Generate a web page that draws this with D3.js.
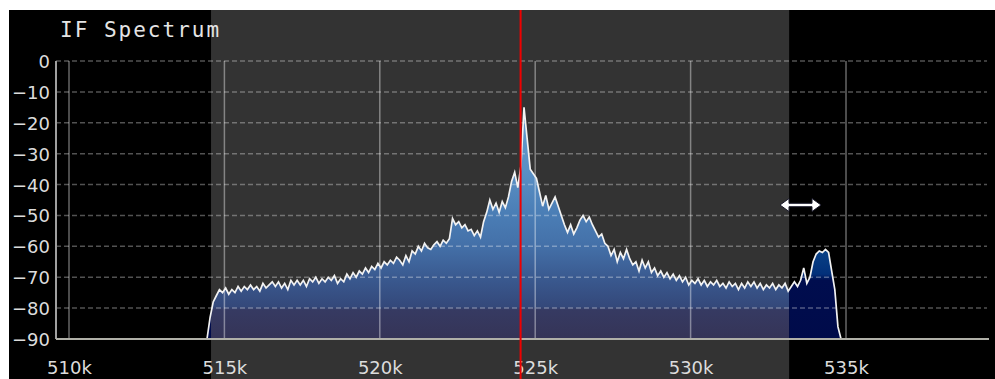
<!DOCTYPE html>
<html>
<head>
<meta charset="utf-8">
<script src="https://cdn.jsdelivr.net/npm/d3@7"></script>
<style>
html,body{margin:0;padding:0;background:#fff;}
svg{display:block;}
</style>
</head>
<body>
<svg id="chart" width="995" height="379"></svg>
<script>
// ---- data ----
const titleText = "IF Spectrum";
const xTicksK = [510, 515, 520, 525, 530, 535];
const yTicksDb = [0, -10, -20, -30, -40, -50, -60, -70, -80, -90];
const passbandK = [514.57, 533.17];
const tunedK = 524.53;
const specStartK = 514.44;
const specStepK = 0.1;
const specDb = [
 -90,-83,-78,-76,-74,-75,-73.5,-75.5,-74,-75,
 -73,-74.5,-73,-74,-72.5,-74,-73,-74.5,-72,-73.5,
 -72.5,-71.5,-73,-71.5,-73.5,-72,-74,-71,-72.5,-71,
 -72.5,-71,-73,-70.5,-71.5,-70,-72,-70.5,-71.5,-70,
 -71,-69.5,-72,-70.5,-71.5,-69,-70.5,-68.5,-70,-68,
 -69,-67,-68.5,-66.5,-67.5,-65.5,-67,-65,-66,-64.5,
 -65.5,-63.5,-64.5,-66,-63,-65,-61.5,-62.5,-60,-61.5,
 -59,-60.5,-61,-59.5,-58.5,-60,-58,-59,-57.5,-51,
 -53,-52,-54,-53,-55,-54.5,-56.5,-55,-57,-52,
 -49,-45,-48,-46,-49,-45.5,-47.5,-44,-39,-36,
 -41,-34,-15,-25,-35,-36.5,-38,-42.5,-47,-43.5,
 -48,-46,-44,-47,-50,-53,-55.5,-53,-56,-54,
 -51.5,-50,-52,-50.5,-53,-55,-57,-56,-59,-60,
 -63,-61,-65,-62,-64,-61,-64,-66,-65,-68,
 -64.5,-67,-65,-68.5,-67,-69.5,-68,-70,-68.5,-70.5,
 -69,-71,-69.5,-71.5,-70,-72.5,-71,-72,-70.5,-72.5,
 -71,-73,-71.5,-72.5,-71,-73,-72,-73.5,-71.5,-73,
 -72,-74,-72,-73.5,-71.5,-73,-71.5,-73.5,-72,-74,
 -72.5,-73.5,-72,-74,-72.5,-73.5,-72,-74.5,-73,-71.5,
 -73,-71,-67,-72,-70,-65,-62.5,-61.5,-62,-61,
 -62,-68,-74,-86,-90
];

// ---- chart ----
const svg = d3.select("#chart");
const W = 995, H = 379;
const x = d3.scaleLinear().domain([510, 535]).range([69, 846]);
const y = d3.scaleLinear().domain([-90, 0]).range([339, 61]);
const plotL = 56, plotR = 989;

const spec = specDb.map((v, i) => ({f: specStartK + i * specStepK, db: v}));

const defs = svg.append("defs");
function grad(id, stops) {
  const g = defs.append("linearGradient").attr("id", id)
    .attr("gradientUnits", "userSpaceOnUse")
    .attr("x1", 0).attr("x2", 0).attr("y1", y(-90)).attr("y2", y(0));
  stops.forEach(s => g.append("stop")
    .attr("offset", ((s[0] + 90) / 90))
    .attr("stop-color", s[1]));
}
grad("gIn", [[-90,"#353457"],[-80.6,"#363a62"],[-79.6,"#34487a"],[-70,"#3a5a90"],[-60,"#4470a8"],[-50,"#4a7db5"],[-35,"#5a90c5"],[0,"#6aa0d0"]]);
grad("gOut", [[-90,"#000b4a"],[-71,"#000d4e"],[-69,"#02307a"],[-60,"#0a4488"],[0,"#1a5090"]]);

defs.append("clipPath").attr("id","cIn").append("rect")
  .attr("x", x(passbandK[0])).attr("y", 0)
  .attr("width", x(passbandK[1]) - x(passbandK[0])).attr("height", H);
const cOut = defs.append("clipPath").attr("id","cOut");
cOut.append("rect").attr("x",0).attr("y",0).attr("width",x(passbandK[0])).attr("height",H);
cOut.append("rect").attr("x",x(passbandK[1])).attr("y",0).attr("width",W).attr("height",H);

// background
svg.append("rect").attr("x",9).attr("y",10).attr("width",W-9).attr("height",H-10).attr("fill","#000");
svg.append("rect").attr("x",x(passbandK[0])).attr("y",10)
  .attr("width",x(passbandK[1]) - x(passbandK[0])).attr("height",H-10).attr("fill","#333333");

// area
const area = d3.area().x(d => x(d.f)).y0(y(-90)).y1(d => y(d.db));
svg.append("path").datum(spec).attr("d", area).attr("fill","url(#gIn)").attr("clip-path","url(#cIn)");
svg.append("path").datum(spec).attr("d", area).attr("fill","url(#gOut)").attr("clip-path","url(#cOut)");

// grid
svg.append("g").selectAll("line").data(yTicksDb.filter(d => d > -90)).join("line")
  .attr("x1", plotL).attr("x2", 987)
  .attr("y1", d => y(d)).attr("y2", d => y(d))
  .attr("stroke","#fff").attr("stroke-opacity",0.32)
  .attr("stroke-width",1.5).attr("stroke-dasharray","5,3");
svg.append("g").selectAll("line").data(xTicksK).join("line")
  .attr("x1", d => x(d)).attr("x2", d => x(d))
  .attr("y1", y(0)).attr("y2", y(-90))
  .attr("stroke","#fff").attr("stroke-opacity",0.4).attr("stroke-width",1.5);

// trace
const line = d3.line().x(d => x(d.f)).y(d => y(d.db));
svg.append("path").datum(spec).attr("d", line).attr("fill","none")
  .attr("stroke","#f2f2f2").attr("stroke-width",1.7).attr("stroke-linejoin","miter");

// axes lines
svg.append("line").attr("x1",plotL).attr("x2",plotL).attr("y1",y(0)).attr("y2",y(-90))
  .attr("stroke","#a0a0a0").attr("stroke-width",2);
svg.append("line").attr("x1",plotL).attr("x2",plotR).attr("y1",y(-90)).attr("y2",y(-90))
  .attr("stroke","#b0b0a8").attr("stroke-width",2);

// tick labels via d3 axes
const yAxis = d3.axisLeft(y).tickValues(yTicksDb).tickSize(0).tickPadding(0).tickFormat(d3.format("d"));
const gy = svg.append("g").attr("transform","translate(50,0)").call(yAxis);
gy.select(".domain").remove();
gy.selectAll("text").attr("fill","#dcdcdc").attr("font-family","'DejaVu Sans'").attr("font-size",18)
  .attr("dy","0.36em").attr("x",0);

const xAxis = d3.axisBottom(x).tickValues(xTicksK).tickSize(0).tickPadding(0).tickFormat(d => d + "k");
const gx = svg.append("g").attr("transform","translate(0,374)").call(xAxis);
gx.select(".domain").remove();
gx.selectAll("text").attr("fill","#dcdcdc").attr("font-family","'DejaVu Sans'").attr("font-size",18)
  .attr("dy",0).attr("y",0);

// tuned marker
svg.append("line").attr("x1",x(tunedK)).attr("x2",x(tunedK)).attr("y1",10).attr("y2",H)
  .attr("stroke","#ee0000").attr("stroke-width",2);

// double arrow
svg.append("path")
  .attr("d","M780,205 L789,198.5 L789,203.3 L812,203.3 L812,198.5 L821,205 L812,211.5 L812,206.7 L789,206.7 L789,211.5 Z")
  .attr("fill","#fff").attr("stroke","#1a1a2a").attr("stroke-width",1);

// title
svg.append("text").attr("x",60).attr("y",37).text(titleText)
  .attr("fill","#e4e4e4").attr("font-family","'DejaVu Sans Mono'").attr("font-size",21)
  .attr("letter-spacing","2px");
</script>
</body>
</html>
